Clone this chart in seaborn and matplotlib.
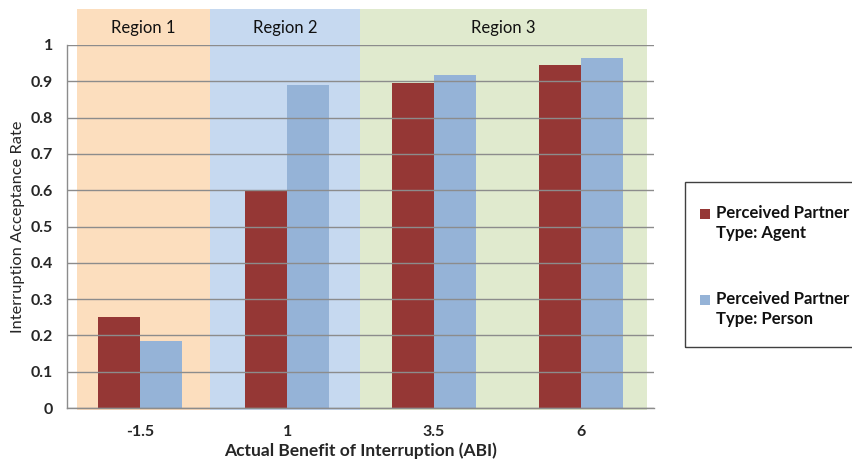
import matplotlib
matplotlib.use("Agg")
import matplotlib.pyplot as plt
import matplotlib.patches as mpatches
import seaborn as sns
import pandas as pd

# ---- data ----
abi_labels = ["-1.5", "1", "3.5", "6"]
agent_rate = [0.25, 0.597, 0.896, 0.945]
person_rate = [0.185, 0.89, 0.918, 0.965]
series_names = ["Perceived Partner\nType: Agent", "Perceived Partner\nType: Person"]
region_names = ["Region 1", "Region 2", "Region 3"]
region_bounds = [(-0.432, 0.472), (0.472, 1.497), (1.497, 3.455)]
y_ticks = [0, 0.1, 0.2, 0.3, 0.4, 0.5, 0.6, 0.7, 0.8, 0.9, 1]
y_tick_labels = ["0", "0.1", "0.2", "0.3", "0.4", "0.5", "0.6", "0.7", "0.8", "0.9", "1"]

colors = ["#953735", "#95B3D7"]
region_colors = ["#FCDEBE", "#C6D9F0", "#E0EACE"]

df = pd.DataFrame({
    "ABI": abi_labels * 2,
    "rate": agent_rate + person_rate,
    "type": [series_names[0]] * len(abi_labels) + [series_names[1]] * len(abi_labels),
})

sns.set_style("white")
plt.rcParams["font.family"] = ["Lato", "DejaVu Sans"]

fig = plt.figure(figsize=(8.52, 4.63), dpi=100)
ax = fig.add_axes([67 / 852, 1 - 408 / 463, (654 - 67) / 852, (408 - 45) / 463])

sns.barplot(data=df, x="ABI", y="rate", hue="type", order=abi_labels,
            hue_order=series_names, palette=colors, saturation=1,
            width=0.571, linewidth=0, ax=ax, legend=False, zorder=2)

ax.set_xlim(-0.5, 3.5)
ax.set_ylim(0, 1)

# region backgrounds
for (x0, x1), c, name in zip(region_bounds, region_colors, region_names):
    ax.axvspan(x0, x1, ymin=-0.006, ymax=1.099, color=c, zorder=0, clip_on=False, lw=0)
    ax.text((x0 + x1) / 2, 1.048, name, ha="center", va="center", fontsize=12, color="#111111")

ax.set_yticks(y_ticks)
ax.set_yticklabels(y_tick_labels, fontweight="bold", fontsize=11.5)
for lab in ax.get_xticklabels():
    lab.set_fontweight("bold")
    lab.set_fontsize(11.5)
ax.tick_params(axis="x", length=0, pad=12)
ax.tick_params(axis="y", length=0, pad=10)

ax.yaxis.grid(True, color="#8c8c8c", linewidth=1, zorder=1)
ax.xaxis.grid(False)
ax.set_axisbelow(False)
for gl in ax.get_ygridlines():
    gl.set_zorder(1)

for s in ["top", "right"]:
    ax.spines[s].set_visible(False)
for s in ["left", "bottom"]:
    ax.spines[s].set_color("#8c8c8c")
    ax.spines[s].set_linewidth(1)
    ax.spines[s].set_zorder(3)

ax.set_xlabel("Actual Benefit of Interruption (ABI)", fontweight="bold", fontsize=12.5)
ax.set_ylabel("Interruption Acceptance Rate", fontsize=11.8)
ax.xaxis.set_label_coords(0.5, -(451 - 408) / 363)
ax.xaxis.label.set_va("center")
ax.yaxis.set_label_coords((18 - 67) / 587, 0.5)
ax.yaxis.label.set_va("center")

# legend box (extends past right edge)
fig.patches.append(mpatches.Rectangle((685 / 852, 1 - 347 / 463), 0.3, 165 / 463,
                                      transform=fig.transFigure, fill=False,
                                      edgecolor="#404040", linewidth=1))
legend_y = [214, 300]
for name, c, yy in zip(series_names, colors, legend_y):
    fig.patches.append(mpatches.Rectangle((700 / 852, 1 - (yy + 5) / 463), 10 / 852, 10 / 463,
                                          transform=fig.transFigure, facecolor=c, edgecolor="none"))
    fig.text(716 / 852, 1 - (yy - 9) / 463, name, ha="left", va="top",
             fontsize=12, fontweight="bold", linespacing=1.3, color="#111111")

fig.savefig("out.png", dpi=100)
